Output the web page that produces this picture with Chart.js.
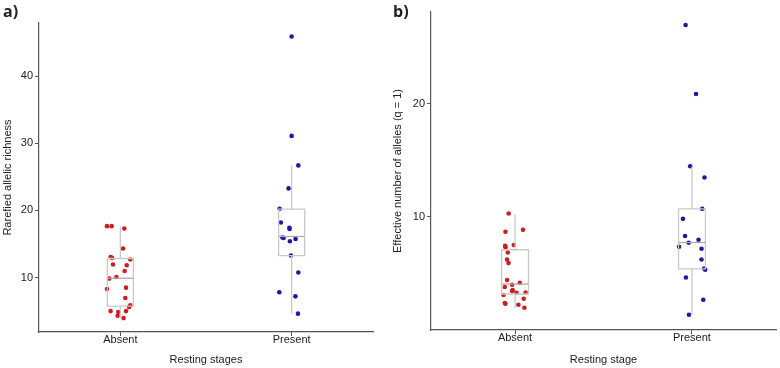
<!DOCTYPE html>
<html lang="en">
<head>
    <meta charset="UTF-8">
    <title>Resting stages</title>
    <style>
        body {
            margin: 0;
            background: #ffffff;
            font-family: "Liberation Sans", Arial, sans-serif;
        }
        .wrap {
            display: flex;
            width: 780px;
            height: 368px;
        }
        .panel {
            position: relative;
            width: 390px;
            height: 368px;
        }
        .tag {
            position: absolute;
            left: 3px;
            top: 0px;
            font-family: "Open Sans", "Liberation Sans", sans-serif;
            font-weight: bold;
            font-size: 16px;
            color: #222;
        }
    </style>
    <script src="https://cdn.jsdelivr.net/npm/chart.js"></script>
</head>
<body>
    <div class="wrap">
        <div class="panel">
            <div class="tag">a)</div>
            <canvas id="chartA" width="390" height="368"></canvas>
        </div>
        <div class="panel">
            <div class="tag">b)</div>
            <canvas id="chartB" width="390" height="368"></canvas>
        </div>
    </div>

    <script>
        const categories = ['Absent', 'Present'];

        // panel a: rarefied allelic richness
        const richAbsent = [17.66, 17.66, 17.3, 14.33, 13.07, 12.93, 12.69, 11.94, 11.84, 10.99, 10.09,
            9.85, 8.3, 8.5, 6.96, 5.87, 5.61, 5.01, 4.87, 5.01, 4.33, 3.97];
        const richAbsentJitter = [-0.078, -0.051, 0.023, 0.016, -0.057, -0.049, 0.058, -0.043, 0.037, 0.025, -0.023,
            -0.064, -0.078, 0.033, 0.029, 0.058, 0.051, -0.057, -0.012, 0.033, -0.016, 0.019];
        const richPresent = [45.9, 31.09, 26.7, 23.28, 20.24, 18.2, 17.4, 17.25, 15.97, 15.9, 15.76,
            15.42, 13.28, 10.75, 7.81, 7.21, 4.63];
        const richPresentJitter = [0, 0, 0.039, -0.018, -0.070, -0.063, -0.013, -0.012, -0.054, -0.047, 0.023,
            -0.010, -0.004, 0.039, -0.072, 0.022, 0.037];
        // [whisker low, q1, median, q3, whisker high]
        const richBoxes = [[3.97, 5.76, 9.9, 12.84, 17.55], [4.63, 13.28, 16.12, 20.2, 26.66]];
        const richTicks = [10, 20, 30, 40];

        // panel b: effective number of alleles
        const effAbsent = [10.29, 8.68, 8.85, 7.44, 7.32, 7.5, 6.85, 6.23, 5.91, 4.41, 4.18, 3.8,
            4.0, 3.53, 3.44, 3.29, 3.32, 3.09, 2.76, 2.38, 2.32, 2.23, 1.97];
        const effAbsentJitter = [-0.036, -0.054, 0.045, -0.056, -0.054, -0.007, -0.041, -0.045, -0.037, -0.045, 0.027, -0.058,
            -0.017, -0.013, -0.017, 0.008, 0.060, -0.065, 0.049, -0.058, -0.054, 0.019, 0.053];
        const effPresent = [26.95, 20.86, 14.47, 13.47, 10.71, 9.82, 8.3, 7.97, 7.71, 7.35, 7.18,
            6.23, 5.44, 5.32, 4.64, 2.67, 1.35];
        const effPresentJitter = [-0.036, 0.023, -0.010, 0.071, 0.058, -0.051, -0.039, 0.037, -0.019, -0.073, 0.054,
            0.054, 0.069, 0.075, -0.034, 0.064, -0.017];
        const effBoxes = [[1.94, 3.18, 4.06, 7.09, 10.26], [1.35, 5.41, 7.73, 10.71, 14.44]];
        const effTicks = [10, 20];

        const RED = 'rgb(205, 30, 30)';
        const BLUE = 'rgb(30, 25, 160)';

        function pts(vals, jit, cat) {
            return vals.map((v, i) => ({ x: cat + jit[i], y: v }));
        }

        const boxPlugin = {
            id: 'boxes',
            afterDatasetsDraw(chart, args, opts) {
                const ctx = chart.ctx;
                const xs = chart.scales.x, ys = chart.scales.y;
                const hw = opts.halfWidth;
                ctx.save();
                ctx.strokeStyle = '#c9c9c9';
                ctx.lineWidth = 1.3;
                opts.stats.forEach((s, i) => {
                    const xl = xs.getPixelForValue(i - hw);
                    const xr = xs.getPixelForValue(i + hw);
                    const xc = xs.getPixelForValue(i);
                    const [lo, q1, med, q3, hi] = s.map(v => ys.getPixelForValue(v));
                    ctx.beginPath();
                    ctx.moveTo(xc, hi); ctx.lineTo(xc, q3);
                    ctx.moveTo(xc, q1); ctx.lineTo(xc, lo);
                    ctx.rect(xl, q3, xr - xl, q1 - q3);
                    ctx.stroke();
                    ctx.beginPath();
                    ctx.strokeStyle = '#aaaaaa';
                    ctx.moveTo(xl, med); ctx.lineTo(xr, med);
                    ctx.stroke();
                    ctx.strokeStyle = '#c9c9c9';
                });
                ctx.restore();
            }
        };

        function makeChart(id, cfg) {
            const font = { family: "'Liberation Sans', Arial, sans-serif", size: 11 };
            return new Chart(document.getElementById(id), {
                type: 'scatter',
                data: {
                    datasets: [
                        { data: pts(cfg.absent, cfg.absentJitter, 0), backgroundColor: RED, borderWidth: 0, pointRadius: 2.3 },
                        { data: pts(cfg.present, cfg.presentJitter, 1), backgroundColor: BLUE, borderWidth: 0, pointRadius: 2.3 }
                    ]
                },
                options: {
                    responsive: false,
                    animation: false,
                    layout: { padding: cfg.padding },
                    plugins: {
                        legend: { display: false },
                        tooltip: { enabled: false },
                        boxes: { stats: cfg.boxes, halfWidth: 0.076 }
                    },
                    scales: {
                        x: {
                            type: 'linear',
                            min: -0.475,
                            max: 1.475,
                            afterBuildTicks: s => { s.ticks = categories.map((c, i) => ({ value: i })); },
                            afterFit: s => { s.height = cfg.xHeight; },
                            ticks: {
                                callback: v => categories[v],
                                color: '#222',
                                font: font,
                                padding: -3
                            },
                            grid: { drawOnChartArea: false, tickLength: 4, color: '#555' },
                            border: { color: '#555', width: 1.2 },
                            title: { display: true, text: cfg.xTitle, color: '#222', font: font, padding: { top: 4, bottom: 1 } }
                        },
                        y: {
                            min: cfg.yMin,
                            max: cfg.yMax,
                            afterBuildTicks: s => { s.ticks = cfg.ticks.map(v => ({ value: v })); },
                            afterFit: s => { s.width = cfg.yWidth; },
                            ticks: { color: '#222', font: font, padding: 2 },
                            grid: { drawOnChartArea: false, tickLength: 4, color: '#555' },
                            border: { color: '#555', width: 1.2 },
                            title: { display: true, text: cfg.yTitle, color: '#222', font: font, padding: { top: 1.5, bottom: 0 } }
                        }
                    }
                },
                plugins: [boxPlugin]
            });
        }

        makeChart('chartA', {
            absent: richAbsent, absentJitter: richAbsentJitter,
            present: richPresent, presentJitter: richPresentJitter,
            boxes: richBoxes, ticks: richTicks,
            yMin: 1.9, yMax: 47.9,
            yTitle: 'Rarefied allelic richness', xTitle: 'Resting stages',
            padding: { top: 23, right: 17, bottom: 0, left: 0 },
            yWidth: 39, xHeight: 36
        });

        makeChart('chartB', {
            absent: effAbsent, absentJitter: effAbsentJitter,
            present: effPresent, presentJitter: effPresentJitter,
            boxes: effBoxes, ticks: effTicks,
            yMin: 0, yMax: 28.1,
            yTitle: 'Effective number of alleles (q = 1)', xTitle: 'Resting stage',
            padding: { top: 12, right: 2, bottom: 0, left: 0 },
            yWidth: 41, xHeight: 38
        });
    </script>
</body>
</html>
